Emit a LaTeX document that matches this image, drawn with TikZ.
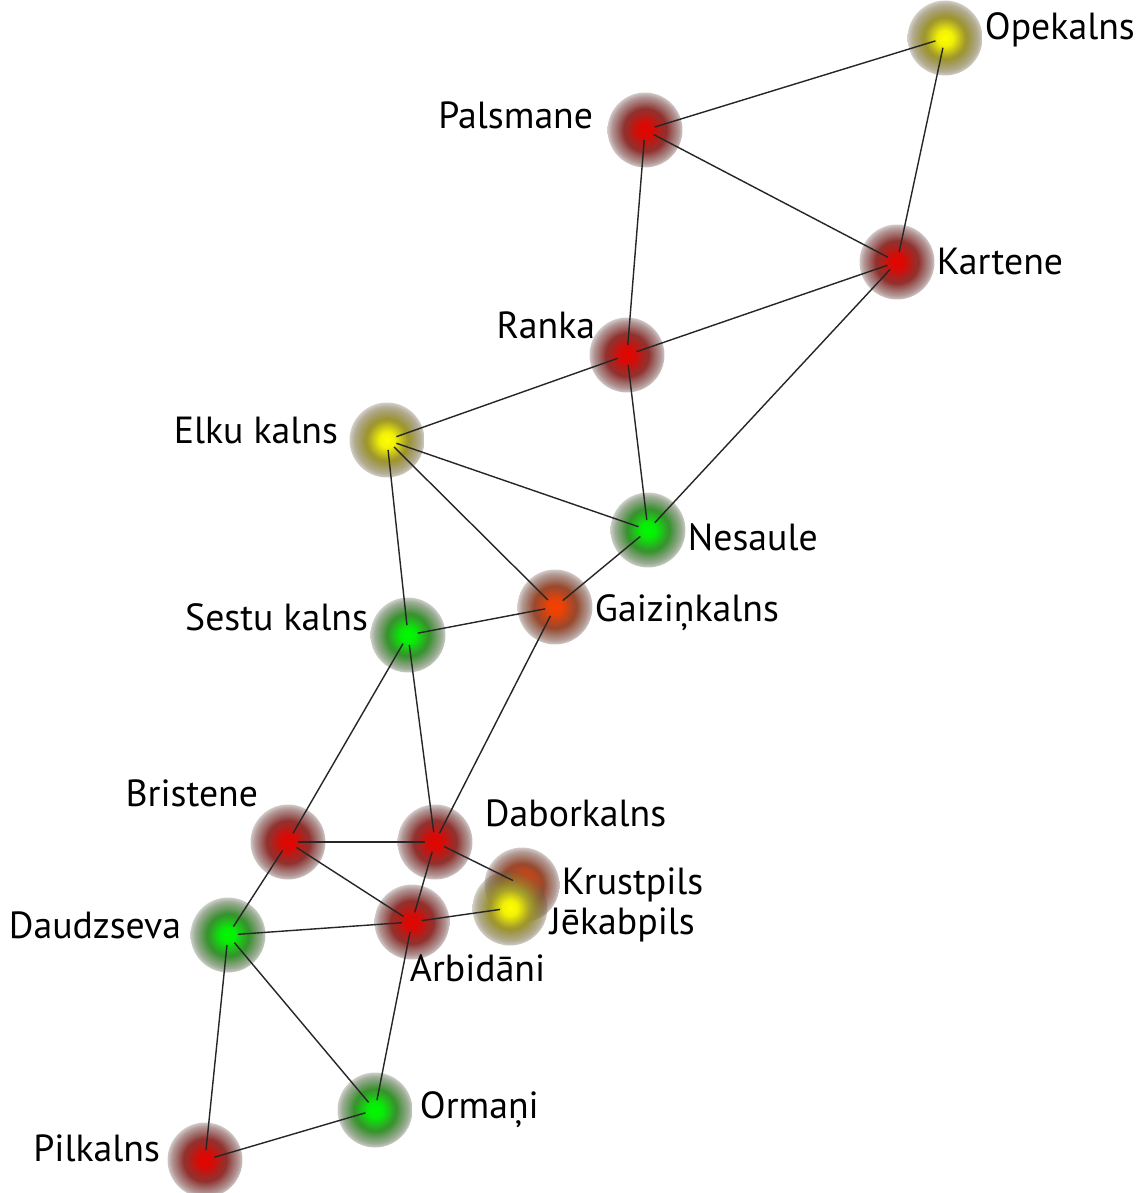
\documentclass[tikz,border=0pt]{standalone}
\usepackage{fontspec}
\setmainfont{PT Sans}
\usepackage{tikz}
\usetikzlibrary{fadings}

\definecolor{halo}{RGB}{92,78,76}
\definecolor{dotred}{RGB}{225,5,0}
\definecolor{dotyel}{RGB}{255,255,0}
\definecolor{dotgrn}{RGB}{0,250,0}
\definecolor{dotora}{RGB}{245,65,0}

\pgfdeclareradialshading{glowred}{\pgfpoint{0cm}{0cm}}{color(0cm)=(dotred);color(0.18cm)=(dotred!92!halo);color(0.45cm)=(dotred!45!halo);color(1cm)=(halo)}
\pgfdeclareradialshading{glowyel}{\pgfpoint{0cm}{0cm}}{color(0cm)=(dotyel);color(0.18cm)=(dotyel!92!halo);color(0.45cm)=(dotyel!45!halo);color(1cm)=(halo)}
\pgfdeclareradialshading{glowgrn}{\pgfpoint{0cm}{0cm}}{color(0cm)=(dotgrn);color(0.18cm)=(dotgrn!92!halo);color(0.45cm)=(dotgrn!45!halo);color(1cm)=(halo)}
\pgfdeclareradialshading{glowora}{\pgfpoint{0cm}{0cm}}{color(0cm)=(dotora);color(0.18cm)=(dotora!92!halo);color(0.45cm)=(dotora!45!halo);color(1cm)=(halo)}
\pgfdeclareradialshading{glowalpha}{\pgfpoint{0cm}{0cm}}{color(0cm)=(transparent!0);color(0.5cm)=(transparent!0);color(0.78cm)=(transparent!45);color(1cm)=(transparent!100)}
\tikzfading[name=glowfade,shade,shading=glowalpha]

\tikzset{
  dot/.style={circle,minimum size=1.5cm,inner sep=0pt,path fading=glowfade},
  lbl/.style={font=\fontsize{21.5}{25}\selectfont,text=black,inner sep=1pt},
  every label/.style={lbl},
  link/.style={line width=0.8pt,black!85,shorten <=0.2cm,shorten >=0.2cm}
}

\begin{document}
\begin{tikzpicture}[x=0.02cm,y=-0.02cm]

\fill[white] (0,0) rectangle (1142,1193);
\useasboundingbox (0,0) rectangle (1142,1193);

% hills
\node[dot,shading=glowyel,label={[yshift=0.16cm]right:Opekalns}] (ope) at (945,38) {};
\node[dot,shading=glowred,label={[xshift=-0.24cm,yshift=0.3cm]left:Palsmane}] (pal) at (645,130) {};
\node[dot,shading=glowred,label={right:Kartene}] (kar) at (897,262) {};
\node[dot,shading=glowred,label={[xshift=0.16cm,yshift=0.6cm]left:Ranka}] (ran) at (627,355) {};
\node[dot,shading=glowyel,label={[xshift=-0.18cm,yshift=0.2cm]left:Elku kalns}] (elk) at (387,440) {};
\node[dot,shading=glowgrn,label={[yshift=-0.14cm]right:Nesaule}] (nes) at (648,530) {};
\node[dot,shading=glowora,label={[yshift=-0.12cm]right:Gaiziņkalns}] (gai) at (555,607) {};
\node[dot,shading=glowgrn,label={[yshift=0.36cm]left:Sestu kalns}] (ses) at (408,635) {};
\node[dot,shading=glowred,label={[xshift=0.2cm,yshift=0.98cm]left:Bristene}] (bri) at (288,842) {};
\node[dot,shading=glowred,label={[xshift=0.2cm,yshift=0.58cm]right:Daborkalns}] (dab) at (435,842) {};
\node[dot,shading=glowora,label={right:Krustpils}] (kru) at (522,885) {};
\node[dot,shading=glowyel,label={[yshift=-0.34cm]right:Jēkabpils}] (jek) at (510,908) {};
\node[dot,shading=glowgrn,label={[xshift=-0.14cm,yshift=0.2cm]left:Daudzseva}] (dau) at (228,935) {};
\node[dot,shading=glowred,label={[xshift=-0.84cm,yshift=-0.92cm]right:Arbidāni}] (arb) at (412,922) {};
\node[dot,shading=glowgrn,label={[xshift=0.1cm]right:Ormaņi}] (orm) at (375,1110) {};
\node[dot,shading=glowred,label={[xshift=-0.1cm,yshift=0.24cm]left:Pilkalns}] (pil) at (205,1160) {};

% links
\draw[link] (ope.center) -- (pal.center);
\draw[link] (ope.center) -- (kar.center);
\draw[link] (pal.center) -- (kar.center);
\draw[link] (pal.center) -- (ran.center);
\draw[link] (kar.center) -- (ran.center);
\draw[link] (kar.center) -- (nes.center);
\draw[link] (ran.center) -- (elk.center);
\draw[link] (ran.center) -- (nes.center);
\draw[link] (elk.center) -- (nes.center);
\draw[link] (elk.center) -- (gai.center);
\draw[link] (elk.center) -- (ses.center);
\draw[link] (nes.center) -- (gai.center);
\draw[link] (gai.center) -- (ses.center);
\draw[link] (gai.center) -- (dab.center);
\draw[link] (ses.center) -- (bri.center);
\draw[link] (ses.center) -- (dab.center);
\draw[link] (bri.center) -- (dab.center);
\draw[link] (bri.center) -- (dau.center);
\draw[link] (bri.center) -- (arb.center);
\draw[link] (dab.center) -- (arb.center);
\draw[link] (dab.center) -- (kru.center);
\draw[link] (arb.center) -- (jek.center);
\draw[link] (dau.center) -- (arb.center);
\draw[link] (dau.center) -- (orm.center);
\draw[link] (dau.center) -- (pil.center);
\draw[link] (arb.center) -- (orm.center);
\draw[link] (orm.center) -- (pil.center);

\end{tikzpicture}
\end{document}
